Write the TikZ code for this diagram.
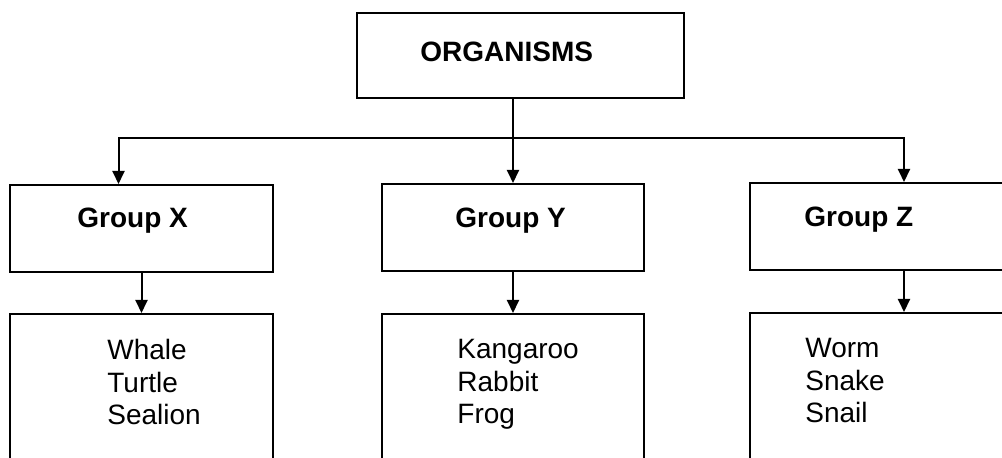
\documentclass[tikz,border=0pt]{standalone}
\usepackage{fontspec}
\setmainfont{Liberation Sans}
\usetikzlibrary{arrows.meta}

\begin{document}
\begin{tikzpicture}[x=0.5pt, y=-0.5pt, >={Triangle[length=6.5pt,width=6pt]},
  box/.style={draw, line width=1pt, anchor=north west, inner sep=0pt},
  head/.style={font=\fontsize{14}{16}\bfseries\selectfont, anchor=base west, inner sep=0pt},
  lst/.style={font=\fontsize{14}{16.25}\selectfont, align=left, anchor=north west, inner sep=0pt},
  conn/.style={->, line width=1pt}]

  \useasboundingbox (0,0) rectangle (1002,458);

  % Top box
  \node[box, minimum width=163.5pt, minimum height=42.5pt] (org) at (356,12) {};
  \node[head] (orgtxt) at (420,62) {ORGANISMS};

  % Groups
  \node[box, minimum width=131.5pt, minimum height=43.5pt] (gx) at (9,184) {};
  \node[box, minimum width=131pt, minimum height=43.5pt] (gy) at (381,183) {};
  \node[box, minimum width=154pt, minimum height=43.5pt] (gz) at (749,182) {};
  \node[head] (gxtxt) at (77,228) {Group X};
  \node[head] (gytxt) at (455,228) {Group Y};
  \node[head] (gztxt) at (804,227) {Group Z};

  % Members
  \node[box, minimum width=131.5pt, minimum height=85pt] (lx) at (9,313) {};
  \node[box, minimum width=131pt, minimum height=85pt] (ly) at (381,313) {};
  \node[box, minimum width=154pt, minimum height=85pt] (lz) at (749,312) {};
  \node[lst] (lxtxt) at (107,339) {Whale\\Turtle\\Sealion};
  \node[lst] (lytxt) at (457,339) {Kangaroo\\Rabbit\\Frog};
  \node[lst] (lztxt) at (805,338) {Worm\\Snake\\Snail};

  % Connectors
  \coordinate (bus) at (512,138);
  \coordinate (xin) at ([xshift=-11.5pt]gx.north);
  \draw[conn] (org.south -| gy.north) -- (gy.north);
  \draw[conn] (bus) -| (xin);
  \draw[conn] (bus) -| (gz.north);
  \draw[conn] (gx.south) -- (lx.north);
  \draw[conn] (gy.south) -- (ly.north);
  \draw[conn] (gz.south) -- (lz.north);
\end{tikzpicture}
\end{document}
